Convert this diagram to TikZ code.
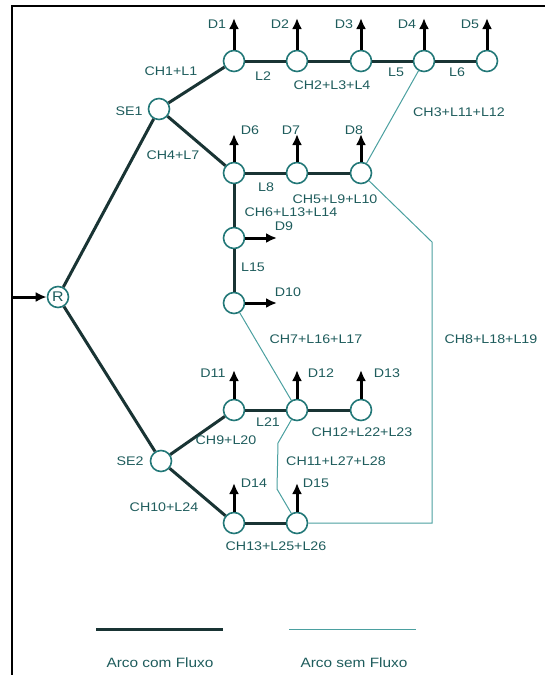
\documentclass[tikz,border=0pt]{standalone}
\usepackage{fontspec}
\setmainfont[FakeStretch=1.14]{Liberation Sans}
\usetikzlibrary{arrows.meta}
\definecolor{arcink}{RGB}{25,52,52}
\definecolor{freeink}{RGB}{75,160,160}
\definecolor{busink}{RGB}{35,120,120}
\definecolor{txtink}{RGB}{30,92,92}
\begin{document}
\begin{tikzpicture}[
		x=1pt,y=-1pt,
		bus/.style = {circle, draw=busink, line width=1.6pt, fill=white, minimum size=21pt, inner sep=0pt, text=txtink, font=\fontsize{14}{15}\selectfont},
		flow/.style = {draw=arcink, line width=3pt},
		noflow/.style = {draw=freeink, line width=1pt},
		dem/.style = {-{Latex[length=11pt,width=10pt]}, draw=black, line width=3pt},
		lbl/.style = {inner sep=0pt, text=txtink, font=\fontsize{12.5}{14}\selectfont}
	]
	\useasboundingbox (0,0) rectangle (545,675);
	\draw [black, line width=1.5pt] (545,6) -- (12,6) -- (12,675);

	% buses
	\node (r) [bus] at (58,297) {R};
	\node (se1) [bus] at (159,109) {};
	\node (se2) [bus] at (161,461) {};
	\node (d1) [bus] at (234,61) {};
	\node (d2) [bus] at (297,61) {};
	\node (d3) [bus] at (361,61) {};
	\node (d4) [bus] at (424,61) {};
	\node (d5) [bus] at (487,61) {};
	\node (d6) [bus] at (234,173) {};
	\node (d7) [bus] at (297,173) {};
	\node (d8) [bus] at (361,173) {};
	\node (d9) [bus] at (234,238) {};
	\node (d10) [bus] at (234,303) {};
	\node (d11) [bus] at (234,410) {};
	\node (d12) [bus] at (297,410) {};
	\node (d13) [bus] at (361,410) {};
	\node (d14) [bus] at (234,523) {};
	\node (d15) [bus] at (297,523) {};

	% ends of the demand arrows and bends
	\coordinate (src) at (12,297);
	\coordinate (t1) at (234,18);
	\coordinate (t2) at (297,18);
	\coordinate (t3) at (361,18);
	\coordinate (t4) at (424,18);
	\coordinate (t5) at (487,18);
	\coordinate (t6) at (234,134);
	\coordinate (t7) at (297,134);
	\coordinate (t8) at (361,134);
	\coordinate (t9) at (277,238);
	\coordinate (t10) at (277,303);
	\coordinate (t11) at (234,370);
	\coordinate (t12) at (297,370);
	\coordinate (t13) at (361,370);
	\coordinate (t14) at (234,483);
	\coordinate (t15) at (297,483);
	\coordinate (b1) at (432,242);
	\coordinate (b2) at (432,523);
	\coordinate (b3) at (278,443);
	\coordinate (b4) at (277,489);

	% arcs without flow
	\path [noflow] (d4) edge (d8);
	\draw [noflow] (d8) -- (b1) -- (b2) -- (d15);
	\path [noflow] (d10) edge (d12);
	\draw [noflow] (d12) -- (b3) -- (b4) -- (d15);

	% arcs with flow
	\path [flow] (r) edge (se1);
	\path [flow] (r) edge (se2);
	\path [flow] (se1) edge (d1);
	\path [flow] (d1) edge (d2);
	\path [flow] (d2) edge (d3);
	\path [flow] (d3) edge (d4);
	\path [flow] (d4) edge (d5);
	\path [flow] (se1) edge (d6);
	\path [flow] (d6) edge (d7);
	\path [flow] (d7) edge (d8);
	\path [flow] (d6) edge (d9);
	\path [flow] (d9) edge (d10);
	\path [flow] (se2) edge (d11);
	\path [flow] (d11) edge (d12);
	\path [flow] (d12) edge (d13);
	\path [flow] (se2) edge (d14);
	\path [flow] (d14) edge (d15);

	% demands
	\draw [dem] (src) -- (r);
	\draw [dem] (d1) -- (t1);
	\draw [dem] (d2) -- (t2);
	\draw [dem] (d3) -- (t3);
	\draw [dem] (d4) -- (t4);
	\draw [dem] (d5) -- (t5);
	\draw [dem] (d6) -- (t6);
	\draw [dem] (d7) -- (t7);
	\draw [dem] (d8) -- (t8);
	\draw [dem] (d9) -- (t9);
	\draw [dem] (d10) -- (t10);
	\draw [dem] (d11) -- (t11);
	\draw [dem] (d12) -- (t12);
	\draw [dem] (d13) -- (t13);
	\draw [dem] (d14) -- (t14);
	\draw [dem] (d15) -- (t15);
	\node (ld1) [lbl] at (217,24) {D1};
	\node (ld2) [lbl] at (280,24) {D2};
	\node (ld3) [lbl] at (344,24) {D3};
	\node (ld4) [lbl] at (407,24) {D4};
	\node (ld5) [lbl] at (470,24) {D5};
	\node (ld6) [lbl] at (250,130) {D6};
	\node (ld7) [lbl] at (291,130) {D7};
	\node (ld8) [lbl] at (354,130) {D8};
	\node (ld9) [lbl] at (284,226) {D9};
	\node (ld10) [lbl] at (288,292) {D10};
	\node (ld11) [lbl] at (213,373) {D11};
	\node (ld12) [lbl] at (321,373) {D12};
	\node (ld13) [lbl] at (387,373) {D13};
	\node (ld14) [lbl] at (254,483) {D14};
	\node (ld15) [lbl] at (316,483) {D15};

	% arc labels
	\node (lse1) [lbl] at (129,111) {SE1};
	\node (lse2) [lbl] at (130,461) {SE2};
	\node (la1) [lbl] at (171,71) {CH1+L1};
	\node (la2) [lbl] at (263,76) {L2};
	\node (la3) [lbl] at (332,85) {CH2+L3+L4};
	\node (la4) [lbl] at (396,72) {L5};
	\node (la5) [lbl] at (457,72) {L6};
	\node (la6) [lbl] at (459,112) {CH3+L11+L12};
	\node (la7) [lbl] at (173,155) {CH4+L7};
	\node (la8) [lbl] at (266,187) {L8};
	\node (la9) [lbl] at (335,199) {CH5+L9+L10};
	\node (la10) [lbl] at (291,212) {CH6+L13+L14};
	\node (la11) [lbl] at (253,267) {L15};
	\node (la12) [lbl] at (316,339) {CH7+L16+L17};
	\node (la13) [lbl] at (491,339) {CH8+L18+L19};
	\node (la14) [lbl] at (268,422) {L21};
	\node (la15) [lbl] at (226,440) {CH9+L20};
	\node (la16) [lbl] at (362,432) {CH12+L22+L23};
	\node (la17) [lbl] at (336,461) {CH11+L27+L28};
	\node (la18) [lbl] at (164,507) {CH10+L24};
	\node (la19) [lbl] at (276,546) {CH13+L25+L26};

	% legend
	\coordinate (k1) at (96,629);
	\coordinate (k2) at (223,629);
	\coordinate (k3) at (289,629);
	\coordinate (k4) at (416,629);
	\path [flow] (k1) edge (k2);
	\path [noflow] (k3) edge (k4);
	\node (lk1) [lbl, font=\fontsize{13.5}{15}\selectfont] at (160,663) {Arco com Fluxo};
	\node (lk2) [lbl, font=\fontsize{13.5}{15}\selectfont] at (354,663) {Arco sem Fluxo};
\end{tikzpicture}
\end{document}
